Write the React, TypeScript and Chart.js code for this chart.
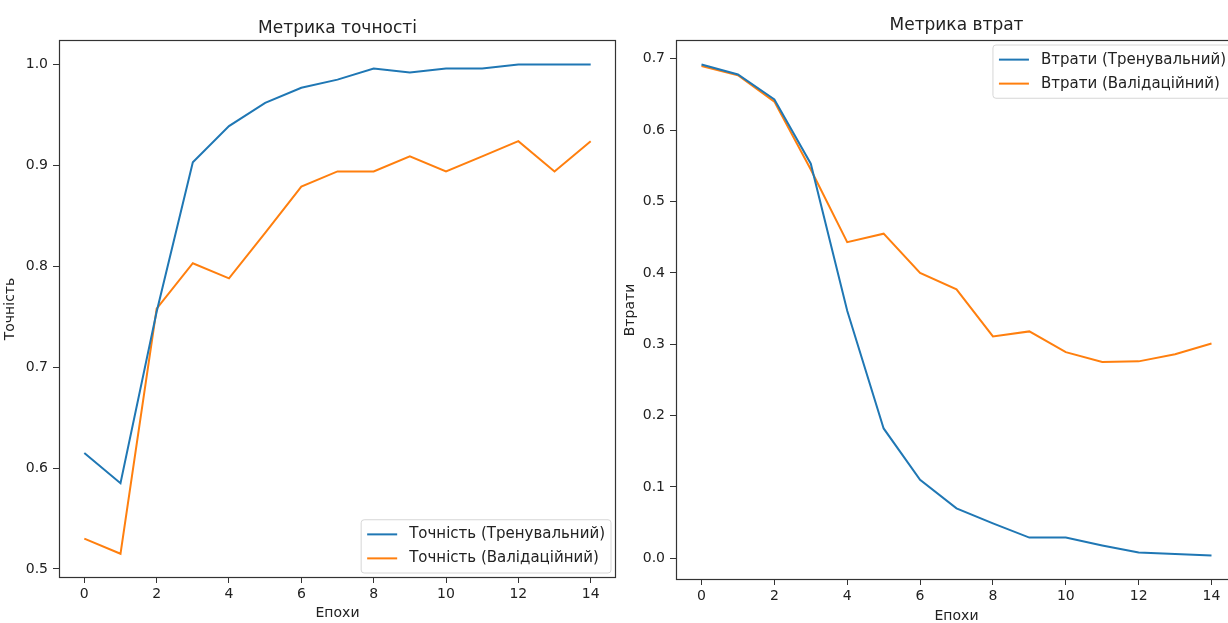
import React, { useEffect, useRef } from "react";
import { Chart, registerables } from "chart.js";

Chart.register(...registerables);

// ---- data ----
const epochs = [0, 1, 2, 3, 4, 5, 6, 7, 8, 9, 10, 11, 12, 13, 14];
const accTrain = [0.615, 0.585, 0.755, 0.903, 0.939, 0.962, 0.977, 0.985, 0.996, 0.992, 0.996, 0.996, 1.0, 1.0, 1.0];
const accVal = [0.530, 0.515, 0.758, 0.803, 0.788, 0.833, 0.879, 0.894, 0.894, 0.909, 0.894, 0.909, 0.924, 0.894, 0.924];
const lossTrain = [0.692, 0.678, 0.643, 0.553, 0.347, 0.182, 0.110, 0.070, 0.049, 0.029, 0.029, 0.018, 0.008, 0.006, 0.004];
const lossVal = [0.690, 0.677, 0.640, 0.545, 0.443, 0.455, 0.400, 0.377, 0.311, 0.318, 0.289, 0.275, 0.276, 0.286, 0.301];
const xTicks = [0, 2, 4, 6, 8, 10, 12, 14];
const accTicks = [0.5, 0.6, 0.7, 0.8, 0.9, 1.0];
const lossTicks = [0.0, 0.1, 0.2, 0.3, 0.4, 0.5, 0.6, 0.7];
const accLabels = ["Точність (Тренувальний)", "Точність (Валідаційний)"];
const lossLabels = ["Втрати (Тренувальний)", "Втрати (Валідаційний)"];

const BLUE = "#1f77b4";
const ORANGE = "#ff7f0e";
const FAMILY = "'DejaVu Sans', sans-serif";
const TXT = "#222222";

const framePlugin = {
  id: "mplFrame",
  afterDatasetsDraw(chart: any) {
    const { ctx, chartArea } = chart;
    const l = Math.round(chartArea.left) + 0.5;
    const t = Math.round(chartArea.top) + 0.5;
    const r = Math.round(chartArea.right) - 0.5;
    const b = Math.round(chartArea.bottom) - 0.5;
    ctx.save();
    ctx.strokeStyle = "#333333";
    ctx.lineWidth = 1.2;
    ctx.strokeRect(l, t, r - l, b - t);
    ctx.restore();
  },
};

const titlePlugin = {
  id: "mplTitle",
  afterDraw(chart: any, _a: any, opts: any) {
    const { ctx, chartArea } = chart;
    ctx.save();
    ctx.font = `${opts.size}px ${FAMILY}`;
    ctx.fillStyle = TXT;
    ctx.textAlign = "center";
    ctx.textBaseline = "middle";
    ctx.fillText(opts.text, (chartArea.left + chartArea.right) / 2, opts.y);
    ctx.restore();
  },
};

const legendPlugin = {
  id: "mplLegend",
  afterDraw(chart: any, _a: any, opts: any) {
    const { ctx, chartArea } = chart;
    const fs = opts.size;
    ctx.save();
    ctx.font = `${fs}px ${FAMILY}`;
    const items = chart.data.datasets.map((d: any) => ({ label: d.label, color: d.borderColor }));
    const tw = Math.max(...items.map((i: any) => ctx.measureText(i.label).width));
    const pad = 0.4 * fs, hl = 2 * fs, htp = 0.8 * fs, ls = 0.45 * fs, rowH = 1.15 * fs;
    const w = pad * 2 + hl + htp + tw;
    const h = pad * 2 + rowH * items.length + ls * (items.length - 1);
    const x = chartArea.right - opts.gap - w;
    const y = opts.corner === "lower" ? chartArea.bottom - opts.gap - h : chartArea.top + opts.gap;
    ctx.beginPath();
    const rr = 3;
    ctx.moveTo(x + rr, y);
    ctx.arcTo(x + w, y, x + w, y + h, rr);
    ctx.arcTo(x + w, y + h, x, y + h, rr);
    ctx.arcTo(x, y + h, x, y, rr);
    ctx.arcTo(x, y, x + w, y, rr);
    ctx.closePath();
    ctx.fillStyle = "rgba(255,255,255,0.85)";
    ctx.fill();
    ctx.strokeStyle = "#d6d6d6";
    ctx.lineWidth = 1;
    ctx.stroke();
    items.forEach((it: any, i: number) => {
      const cy = y + pad + i * (rowH + ls) + rowH / 2;
      ctx.strokeStyle = it.color;
      ctx.lineWidth = 2;
      ctx.beginPath();
      ctx.moveTo(x + pad, cy);
      ctx.lineTo(x + pad + hl, cy);
      ctx.stroke();
      ctx.fillStyle = TXT;
      ctx.textAlign = "left";
      ctx.textBaseline = "middle";
      ctx.fillText(it.label, x + pad + hl + htp, cy);
    });
    ctx.restore();
  },
};

type PanelSpec = {
  W: number;
  H: number;
  area: { left: number; top: number; right: number; bottom: number };
  title: string;
  titleY: number;
  yTitle: string;
  yMin: number;
  yMax: number;
  yTicks: number[];
  series: number[][];
  labels: string[];
  corner: "lower" | "upper";
  xTitlePad: number;
};

function buildConfig(p: PanelSpec): any {
  const tickFont = { family: FAMILY, size: 14 };
  return {
    type: "line",
    data: {
      datasets: p.series.map((s, i) => ({
        label: p.labels[i],
        data: epochs.map((e, j) => ({ x: e, y: s[j] })),
        borderColor: i === 0 ? BLUE : ORANGE,
        backgroundColor: i === 0 ? BLUE : ORANGE,
        borderWidth: 2,
        pointRadius: 0,
        tension: 0,
        fill: false,
      })),
    },
    options: {
      responsive: false,
      animation: false,
      events: [],
      layout: { padding: { top: p.area.top, right: p.W - p.area.right, left: 0, bottom: 0 } },
      plugins: {
        legend: { display: false },
        title: { display: false },
        tooltip: { enabled: false },
        mplTitle: { text: p.title, y: p.titleY, size: 17 },
        mplLegend: { corner: p.corner, size: 15, gap: 5 },
      },
      scales: {
        x: {
          type: "linear",
          min: -0.7,
          max: 14.7,
          afterFit: (s: any) => {
            s.height = p.H - p.area.bottom;
          },
          afterBuildTicks: (s: any) => {
            s.ticks = xTicks.map((v) => ({ value: v }));
          },
          ticks: { font: tickFont, color: TXT, padding: 3, maxRotation: 0, autoSkip: false, callback: (v: any) => String(v) },
          grid: { drawOnChartArea: false, drawTicks: true, tickLength: 5, color: "#333333", tickColor: "#333333" },
          border: { display: false },
          title: {
            display: true,
            text: "Епохи",
            color: TXT,
            font: { family: FAMILY, size: 14, lineHeight: 1 },
            padding: { top: 0, bottom: p.xTitlePad },
          },
        },
        y: {
          type: "linear",
          min: p.yMin,
          max: p.yMax,
          afterFit: (s: any) => {
            s.width = p.area.left;
          },
          afterBuildTicks: (s: any) => {
            s.ticks = p.yTicks.map((v) => ({ value: v }));
          },
          ticks: { font: tickFont, color: TXT, padding: 5, autoSkip: false, callback: (v: any) => Number(v).toFixed(1) },
          grid: { drawOnChartArea: false, drawTicks: true, tickLength: 6, color: "#333333", tickColor: "#333333" },
          border: { display: false },
          title: {
            display: true,
            text: p.yTitle,
            color: TXT,
            font: { family: FAMILY, size: 14, lineHeight: 1 },
            padding: { top: 3, bottom: 0 },
          },
        },
      },
    },
    plugins: [framePlugin, titlePlugin, legendPlugin],
  };
}

function Panel({ spec, left, top }: { spec: PanelSpec; left: number; top: number }) {
  const ref = useRef<HTMLCanvasElement>(null);
  useEffect(() => {
    const chart = new Chart(ref.current as HTMLCanvasElement, buildConfig(spec));
    return () => chart.destroy();
  }, []);
  return (
    <canvas
      ref={ref}
      width={spec.W}
      height={spec.H}
      style={{ position: "absolute", left, top, width: spec.W, height: spec.H }}
    />
  );
}

const accSpec: PanelSpec = {
  W: 620,
  H: 623,
  area: { left: 59, top: 40, right: 616, bottom: 578 },
  title: "Метрика точності",
  titleY: 29,
  yTitle: "Точність",
  yMin: 0.491,
  yMax: 1.0243,
  yTicks: accTicks,
  series: [accTrain, accVal],
  labels: accLabels,
  corner: "lower",
  xTitlePad: 3,
};

const lossSpec: PanelSpec = {
  W: 620,
  H: 623,
  area: { left: 56, top: 40, right: 617, bottom: 580 },
  title: "Метрика втрат",
  titleY: 26,
  yTitle: "Втрати",
  yMin: -0.0304,
  yMax: 0.7264,
  yTicks: lossTicks,
  series: [lossTrain, lossVal],
  labels: lossLabels,
  corner: "upper",
  xTitlePad: 0,
};

export default function App() {
  return (
    <div
      style={{
        position: "fixed",
        left: 0,
        top: 0,
        width: 1228,
        height: 623,
        overflow: "hidden",
        background: "#ffffff",
      }}
    >
      <Panel spec={accSpec} left={0} top={0} />
      <Panel spec={lossSpec} left={620} top={0} />
    </div>
  );
}
